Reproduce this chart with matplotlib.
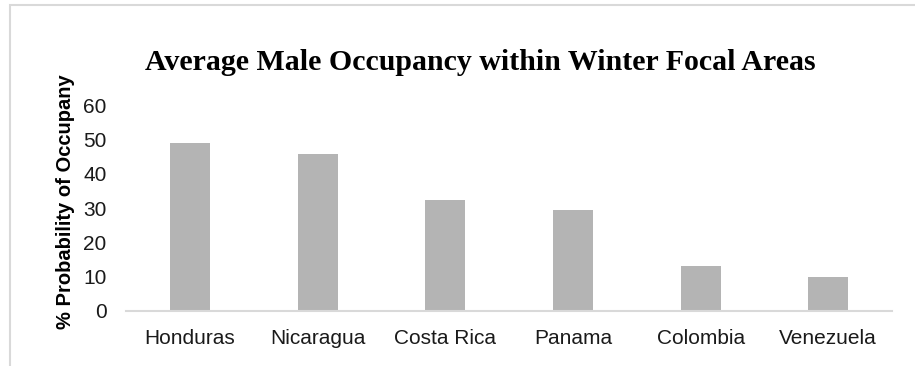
import matplotlib.pyplot as plt
from matplotlib.patches import Rectangle

paises = ['Honduras', 'Nicaragua', 'Costa Rica', 'Panama', 'Colombia', 'Venezuela']
ocupacion = [49.0, 45.6, 32.2, 29.4, 13.0, 9.8]

fig = plt.figure(figsize=(9.15, 3.66), dpi=100)
ax = fig.add_axes([0.1377, 0.1503, 0.8373, 0.5627])

# Barras grises estilo Excel
x = range(len(paises))
ax.bar(x, ocupacion, width=0.313, color='#b4b4b4')

ax.set_xlim(-0.5, len(paises) - 0.5)
ax.set_ylim(0, 60)
ax.set_yticks(range(0, 61, 10))
ax.set_xticks(list(x))
ax.set_xticklabels(paises)

for lado in ['top', 'right', 'left']:
    ax.spines[lado].set_visible(False)
ax.spines['bottom'].set_color('#d9d9d9')
ax.spines['bottom'].set_linewidth(1.5)
ax.tick_params(axis='both', length=0, labelsize=15, colors='#1a1a1a')
ax.tick_params(axis='y', pad=14)
ax.tick_params(axis='x', pad=13)
for t in ax.get_xticklabels() + ax.get_yticklabels():
    t.set_family('Liberation Sans')

ax.set_ylabel('% Probability of Occupany', fontsize=14.5, fontweight='bold',
              family='Liberation Sans')
ax.yaxis.set_label_coords(-0.067, 0.53)

fig.text(0.5246, 0.828, 'Average Male Occupancy within Winter Focal Areas',
         ha='center', va='center', fontsize=21.5, fontweight='bold',
         family='Liberation Serif')

# Borde del area del grafico
fig.patches.append(Rectangle((10 / 915, -0.1), 1.2, 1.1 - 5 / 366,
                             transform=fig.transFigure, fill=False,
                             edgecolor='#d9d9d9', linewidth=1.5))

plt.savefig('out.png', dpi=100)
